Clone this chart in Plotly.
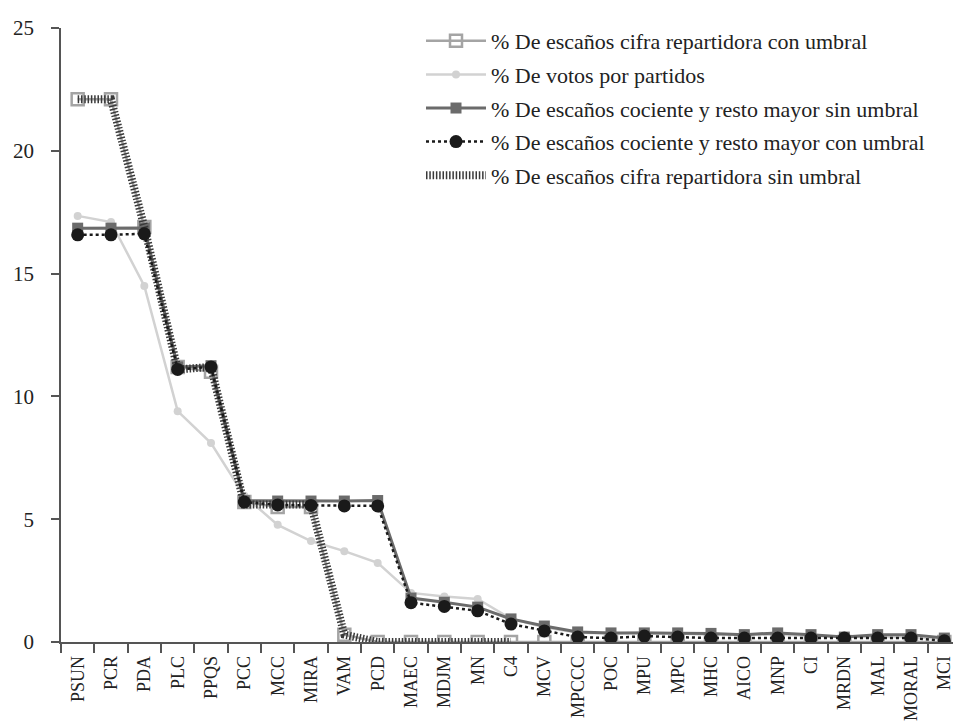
import plotly.graph_objects as go

categories = ["PSUN", "PCR", "PDA", "PLC", "PPQS", "PCC", "MCC", "MIRA", "VAM", "PCD",
              "MAEC", "MDJM", "MN", "C4", "MCV", "MPCCC", "POC", "MPU", "MPC", "MHC",
              "AICO", "MNP", "CI", "MRDN", "MAL", "MORAL", "MCI"]

cifra_con_umbral = [22.1, 22.1, 16.9, 11.2, 11.0, 5.7, 5.5, 5.5, 0.3, 0, 0, 0, 0, 0, 0,
                    0, 0, 0, 0, 0, 0, 0, 0, 0, 0, 0, 0]
votos = [17.35, 17.1, 14.5, 9.4, 8.1, 5.95, 4.77, 4.11, 3.7, 3.22, 2.0, 1.85, 1.75, 0.95,
         0.6, 0.38, 0.35, 0.4, 0.35, 0.3, 0.3, 0.3, 0.25, 0.2, 0.2, 0.2, 0.12]
cociente_sin_umbral = [16.85, 16.85, 16.86, 11.2, 11.25, 5.75, 5.74, 5.74, 5.74, 5.76, 1.79,
                       1.62, 1.42, 0.94, 0.65, 0.41, 0.37, 0.37, 0.37, 0.35, 0.3, 0.37,
                       0.3, 0.2, 0.3, 0.3, 0.16]
cociente_con_umbral = [16.58, 16.58, 16.62, 11.1, 11.2, 5.7, 5.58, 5.56, 5.54, 5.54, 1.6,
                       1.45, 1.27, 0.73, 0.45, 0.2, 0.16, 0.24, 0.2, 0.16, 0.16, 0.16,
                       0.16, 0.16, 0.16, 0.16, 0.05]
cifra_sin_umbral = [22.1, 22.1, 16.9, 11.1, 11.2, 5.6, 5.6, 5.6, 0.3, 0, 0, 0, 0, 0,
                    None, None, None, None, None, None, None, None, None, None, None, None, None]

names = ["% De escaños cifra repartidora con umbral",
         "% De votos por partidos",
         "% De escaños cociente y resto mayor sin umbral",
         "% De escaños cociente y resto mayor con umbral",
         "% De escaños cifra repartidora sin umbral"]

FONT = "Liberation Serif, DejaVu Serif, serif"

fig = go.Figure()

fig.add_trace(go.Scatter(
    x=categories, y=votos, name=names[1], mode="lines+markers",
    line=dict(color="#d2d2d2", width=2.5),
    marker=dict(symbol="circle", size=8, color="#d2d2d2"),
    legendrank=2, legendgroup="b"))

fig.add_trace(go.Scatter(
    x=categories, y=cifra_con_umbral, name=names[0], mode="lines+markers",
    line=dict(color="#a4a4a4", width=2.5),
    marker=dict(symbol="square-open", size=12, color="#a4a4a4", line=dict(width=2.5)),
    legendrank=1, legendgroup="a"))

fig.add_trace(go.Scatter(
    x=categories, y=cociente_sin_umbral, name=names[2], mode="lines+markers",
    line=dict(color="#6b6b6b", width=3),
    marker=dict(symbol="square", size=11, color="#6b6b6b"),
    legendrank=3, legendgroup="c"))

fig.add_trace(go.Scatter(
    x=categories, y=cifra_sin_umbral, name=names[4], mode="lines",
    line=dict(color="#3a3a3a", width=8, dash="1.5px,1.8px"),
    legendrank=5, legendgroup="e"))

fig.add_trace(go.Scatter(
    x=categories, y=cociente_con_umbral, name=names[3], mode="lines+markers",
    line=dict(color="#1a1a1a", width=2.5, dash="dot"),
    marker=dict(symbol="circle", size=13, color="#1a1a1a"),
    legendrank=4, legendgroup="d"))

fig.update_layout(
    width=961, height=723,
    paper_bgcolor="white", plot_bgcolor="white",
    margin=dict(l=53, r=8, t=20, b=89),
    font=dict(family=FONT, color="#222222"),
    showlegend=True,
    legend=dict(x=0.40, y=1.013, xanchor="left", yanchor="top",
                font=dict(family=FONT, size=22, color="#222222"),
                itemwidth=60,
                tracegroupgap=2, bgcolor="rgba(0,0,0,0)"),
    xaxis=dict(type="category", range=[-0.5, 26.5], showline=True, linecolor="#555555",
               linewidth=1.5, ticks="outside", tickson="boundaries", ticklen=9,
               tickcolor="#555555", tickwidth=1.5, tickangle=-90, ticklabelstandoff=5,
               tickfont=dict(family=FONT, size=18, color="#222222"), showgrid=False,
               zeroline=False, automargin=False),
    yaxis=dict(range=[0, 25], tickvals=[0, 5, 10, 15, 20, 25], showline=True,
               linecolor="#555555", linewidth=1.5, ticks="outside", ticklen=8,
               tickcolor="#555555", tickwidth=1.5, showgrid=False, zeroline=False,
               ticklabelstandoff=13, automargin=False,
               tickfont=dict(family=FONT, size=21, color="#222222")),
)

fig.write_html("out.html")
